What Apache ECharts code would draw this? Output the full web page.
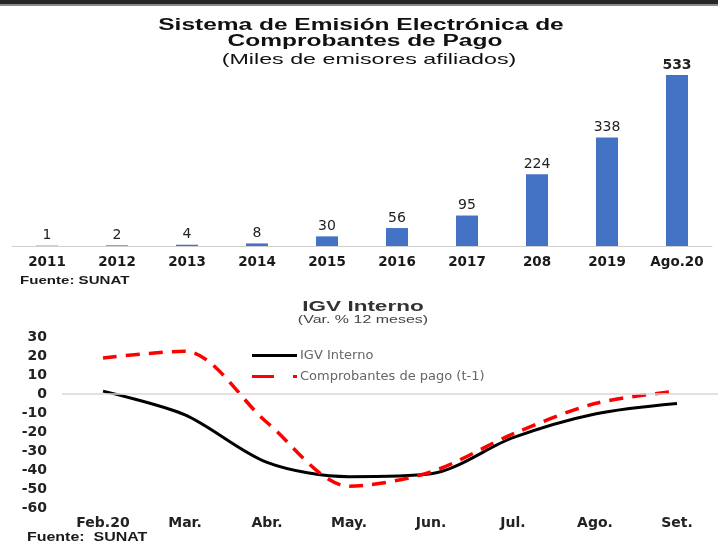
<!DOCTYPE html>
<html>
<head>
<meta charset="utf-8">
<script src="https://cdn.jsdelivr.net/npm/echarts@6/dist/echarts.min.js"></script>
<style>
  html, body { margin: 0; padding: 0; background: #fff; }
  #chart { width: 718px; height: 542px; }
</style>
</head>
<body>
<div id="chart"></div>
<script>
// bar chart data (miles de emisores afiliados)
const years = ["2011", "2012", "2013", "2014", "2015", "2016", "2017", "208", "2019", "Ago.20"];
const emisores = [1, 2, 4, 8, 30, 56, 95, 224, 338, 533];

// line chart data (var. % 12 meses)
const months = ["Feb.20", "Mar.", "Abr.", "May.", "Jun.", "Jul.", "Ago.", "Set."];
const igvInterno = [1.5, -11, -36, -43.5, -42, -23, -10.5, -5];
const comprobantes = [19, 22.5, -15, -48.5, -41, -21, -5, 1.5];

const arial = "Liberation Sans, Arial, sans-serif";
const wide = "DejaVu Sans, sans-serif";

// stretched caption text (the source picture is widened)
let caption = (text, x, y, font, color, sx) => ({
  type: "text", x: x, y: y, scaleX: sx, z: 10,
  style: { text: text, font: font, fill: color, align: "center", verticalAlign: "middle" }
});

let chart = echarts.init(document.getElementById("chart"), null, { renderer: "canvas" });

chart.setOption({
  animation: false,
  backgroundColor: "#fff",
  textStyle: { fontFamily: wide },
  graphic: [
    { type: "rect", left: 0, top: 0, shape: { width: 718, height: 4 }, style: { fill: "#262626" } },
    { type: "rect", left: 0, top: 4, shape: { width: 718, height: 2 }, style: { fill: "#8a8a8a" } },
    caption("Sistema de Emisión Electrónica de", 361, 26, "bold 16px " + arial, "#111", 1.53),
    caption("Comprobantes de Pago", 365, 42, "bold 16px " + arial, "#111", 1.53),
    caption("(Miles de emisores afiliados)", 369, 60, "15px " + arial, "#111", 1.55),
    caption("IGV Interno", 363, 307, "bold 15px " + arial, "#333", 1.5),
    caption("(Var. % 12 meses)", 363, 320, "11.5px " + arial, "#444", 1.39),
    { type: "text", x: 20, y: 281, scaleX: 1.37,
      style: { text: "Fuente: SUNAT", font: "bold 11px " + arial, fill: "#1a1a1a", verticalAlign: "middle" } },
    { type: "text", x: 27, y: 538, scaleX: 1.33,
      style: { text: "Fuente:  SUNAT", font: "bold 12px " + arial, fill: "#1a1a1a", verticalAlign: "middle" } }
  ],
  legend: {
    data: [
      { name: "IGV Interno", icon: "path://M0,0H45V3H0Z" },
      { name: "Comprobantes de pago (t-1)", icon: "path://M0,0H22V3H0Z M41,0H45V3H41Z" }
    ],
    orient: "vertical",
    left: 247, top: 344,
    itemWidth: 45, itemHeight: 3, itemGap: 8,
    textStyle: { fontSize: 13, color: "#666", fontFamily: wide, padding: [0, 0, 0, -2] }
  },
  grid: [
    { left: 12, width: 700, top: 75, height: 171 },
    { left: 62, width: 656, top: 337, height: 171 }
  ],
  xAxis: [
    {
      type: "category", gridIndex: 0, data: years,
      axisLine: { lineStyle: { color: "#d0d0d0", width: 1 } },
      axisTick: { show: false },
      axisLabel: { interval: 0, fontSize: 13.5, fontWeight: "bold", color: "#1a1a1a", margin: 9, fontFamily: wide }
    },
    {
      type: "category", gridIndex: 1, data: months,
      axisLine: { show: false },
      axisTick: { show: false },
      axisLabel: { interval: 0, fontSize: 14, fontWeight: "bold", color: "#222", margin: 8, fontFamily: wide }
    }
  ],
  yAxis: [
    { type: "value", gridIndex: 0, min: 0, max: 533, show: false, splitLine: { show: false } },
    {
      type: "value", gridIndex: 1, min: -60, max: 30, interval: 10,
      axisLine: { show: false }, axisTick: { show: false },
      splitLine: { show: false },
      axisLabel: { fontSize: 14, fontWeight: "bold", color: "#222", margin: 15, fontFamily: wide }
    }
  ],
  series: [
    {
      type: "bar", xAxisIndex: 0, yAxisIndex: 0,
      data: emisores.map((v, i) => i === emisores.length - 1
        ? { value: v, label: { fontWeight: "bold" } }
        : v),
      barWidth: 22,
      itemStyle: { color: "#4472c4" },
      label: { show: true, position: "top", distance: 3, fontSize: 14, color: "#222", fontFamily: wide }
    },
    {
      name: "IGV Interno", type: "line", xAxisIndex: 1, yAxisIndex: 1, data: igvInterno,
      smooth: 0.3, symbol: "none",
      lineStyle: { color: "#000", width: 3 },
      itemStyle: { color: "#000" },
      markLine: {
        silent: true, symbol: "none", label: { show: false },
        lineStyle: { color: "#d9d9d9", width: 1.5, type: "solid" },
        data: [{ yAxis: 0 }]
      }
    },
    {
      name: "Comprobantes de pago (t-1)", type: "line", xAxisIndex: 1, yAxisIndex: 1, data: comprobantes,
      smooth: 0.3, symbol: "none",
      lineStyle: { color: "#ff0000", width: 3.5, type: [14, 9] },
      itemStyle: { color: "#ff0000" }
    }
  ]
});
</script>
</body>
</html>
